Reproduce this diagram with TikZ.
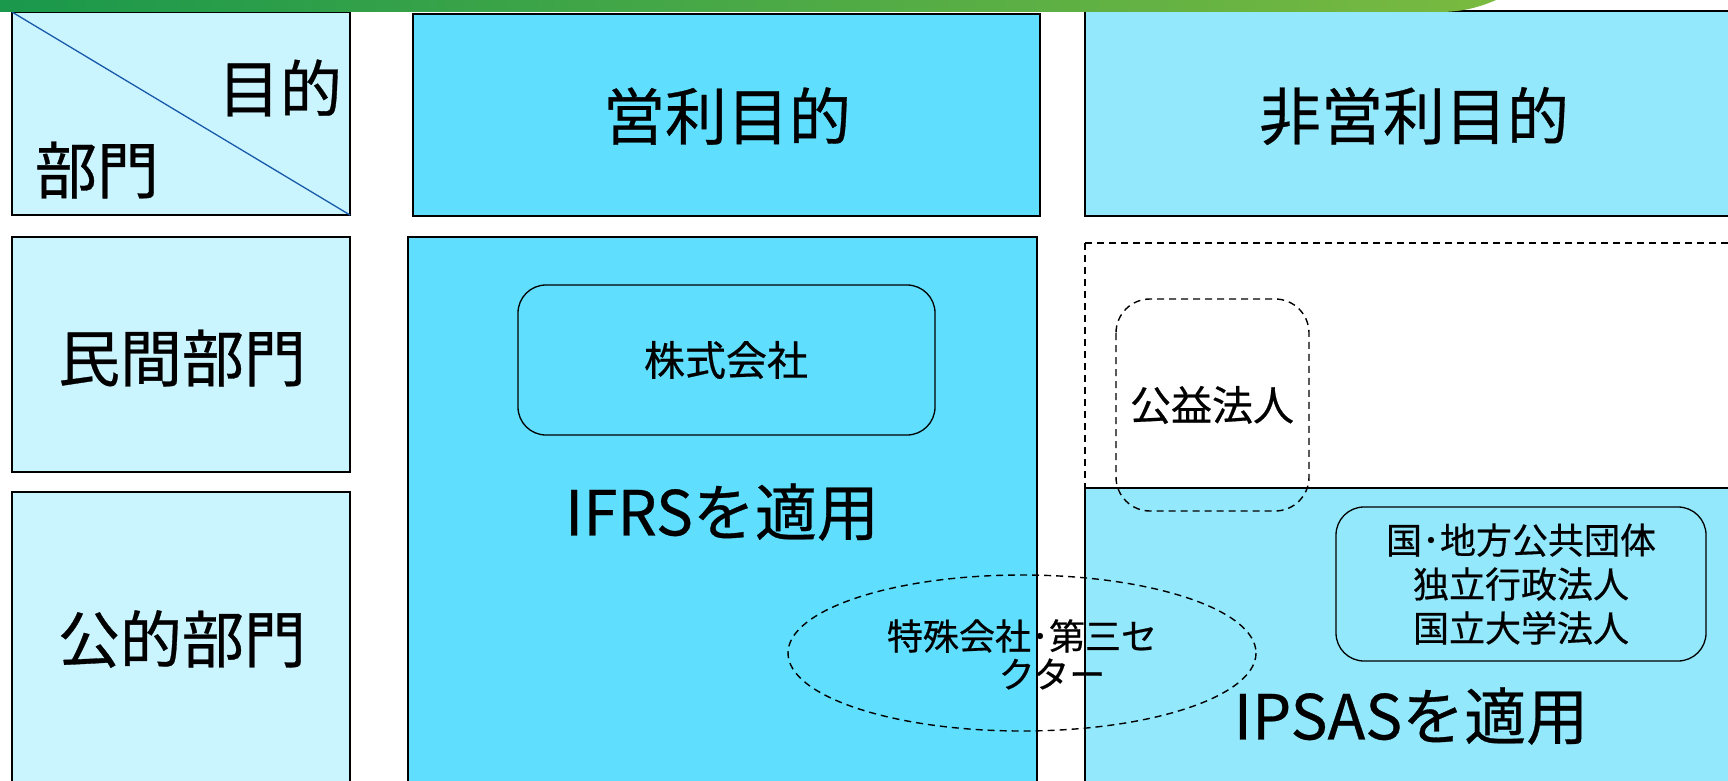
\documentclass[tikz,border=0pt]{standalone}
\usepackage{fontspec}
\setmainfont{Noto Sans CJK JP}[FakeBold=0.5]
\usetikzlibrary{shapes.geometric}
\definecolor{hdrA}{RGB}{95,222,253}
\definecolor{hdrB}{RGB}{148,232,252}
\definecolor{leftc}{RGB}{202,244,254}
\definecolor{diagblue}{RGB}{24,90,170}
\definecolor{gA}{RGB}{26,152,76}
\definecolor{gB}{RGB}{122,186,64}
\tikzset{
  cell/.style={draw=black, line width=1.2pt},
  rbox/.style={draw=black, line width=1.3pt, rounded corners=28pt},
  dbox/.style={draw=black, line width=1.4pt, dashed, dash pattern=on 7pt off 5pt},
  big/.style={font=\fontsize{62}{70}\selectfont, inner sep=0pt},
  mid/.style={font=\fontsize{41}{48}\selectfont, inner sep=0pt},
  small/.style={font=\fontsize{36}{44}\selectfont, inner sep=0pt, align=center},
}
\begin{document}
\begin{tikzpicture}[x=1pt,y=-1pt]
\useasboundingbox (0,0) rectangle (1728,781);
\clip (0,0) rectangle (1728,781);
\fill[white] (0,0) rectangle (1728,781);
% left column
\draw[cell, fill=leftc] (12,12) rectangle (350,215);
\draw[diagblue, line width=1.3pt] (12,12) -- (350,215);
\node[big] (mokuteki) at (280,88) {目的};
\node[big] (bumon) at (97,170) {部門};
\draw[cell, fill=leftc] (12,237) rectangle (350,472);
\node[big] (minkan) at (182,358) {民間部門};
\draw[cell, fill=leftc] (12,492) rectangle (350,800);
\node[big] (koteki) at (182,639) {公的部門};
% headers
\draw[cell, fill=hdrA] (413,14) rectangle (1040,216);
\node[big] (eiri) at (727,116) {営利目的};
\draw[cell, fill=hdrB] (1085,11) rectangle (1740,216);
\node[big] (hieiri) at (1414,116) {非営利目的};
% IFRS area
\draw[cell, fill=hdrA] (408,237) rectangle (1037,800);
\draw[rbox] (518,285) rectangle (935,435);
\node[mid] (kabu) at (726,360) {株式会社};
\node[big] (ifrs) at (722,512) {IFRSを適用};
% non-profit private (dashed)
\draw[dbox] (1085,243) -- (1740,243);
\draw[dbox] (1085,243) -- (1085,488);
% IPSAS area
\draw[cell, fill=hdrB] (1085,488) rectangle (1740,800);
\draw[dbox, rounded corners=34pt] (1116,299) rectangle (1309,511);
\node[mid] (koeki) at (1212,405) {公益法人};
\draw[rbox] (1336,507) rectangle (1706,661);
\node[small] (kuni) at (1521,584) {国･地方公共団体\\独立行政法人\\国立大学法人};
\node[big] (ipsas) at (1411,716) {IPSASを適用};
% ellipse
\draw[dbox] (1022,653) ellipse [x radius=234, y radius=78];
\node[small] (tokushu1) at (1022,636) {特殊会社･第三セ};
\node[small] (tokushu2) at (1052,674) {クター};
% green bar
\shade[left color=gA, right color=gB] (0,0) -- (1496,0) .. controls (1480,7) and (1462,12) .. (1440,12) -- (0,12) -- cycle;
\end{tikzpicture}
\end{document}
